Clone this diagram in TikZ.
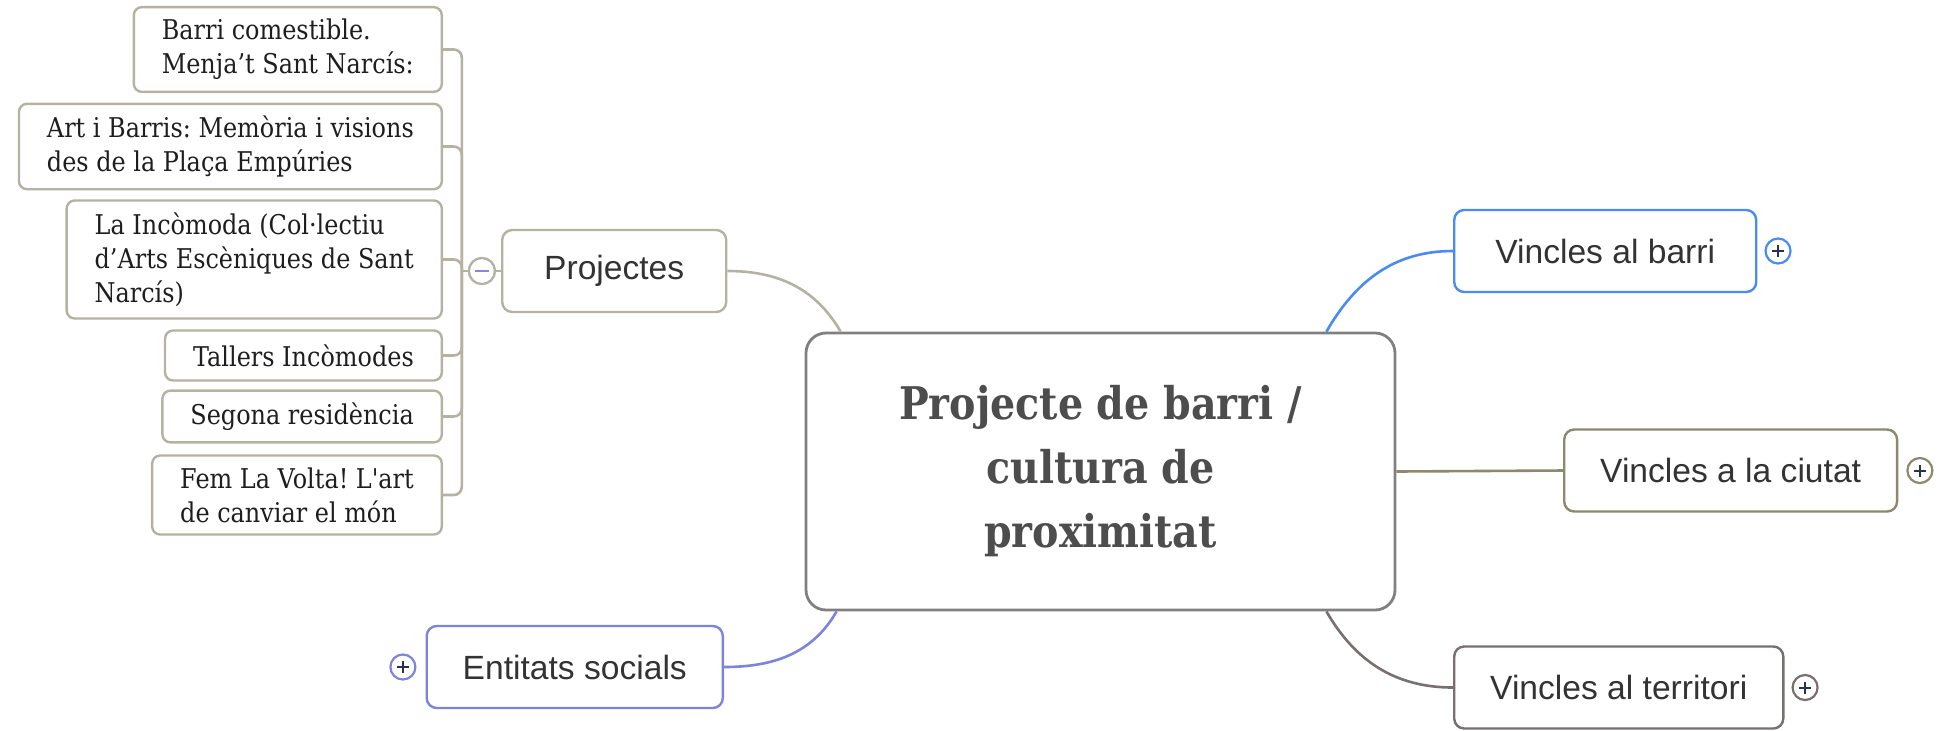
\documentclass[tikz,border=0pt]{standalone}
\usepackage{fontspec}
\usepackage{tikz}
\usetikzlibrary{positioning}
\newfontfamily\slabfont[FakeStretch=0.88,Ligatures=TeXOff]{DejaVu Serif}
\newfontfamily\roundfont{Liberation Sans}
\definecolor{branchgray}{RGB}{182,178,163}
\definecolor{coregray}{RGB}{128,128,128}
\definecolor{barriblue}{RGB}{74,138,245}
\definecolor{ciutatolive}{RGB}{140,137,108}
\definecolor{terrbrown}{RGB}{122,110,110}
\definecolor{entviolet}{RGB}{125,132,220}
\definecolor{signnavy}{RGB}{40,50,80}
\definecolor{minusblue}{RGB}{130,140,210}
\definecolor{inkdark}{RGB}{30,30,30}
\definecolor{inkgray}{RGB}{51,51,51}
\definecolor{coreink}{RGB}{77,77,77}
\frenchspacing

\begin{document}
\begin{tikzpicture}[x=0.5pt,y=0.5pt,
    leaf/.style={draw=branchgray,fill=white,line width=1.2pt,rounded corners=4pt,align=left,
      inner xsep=14pt,inner ysep=6pt,minimum height=25pt,anchor=east,text=inkdark,
      font=\slabfont\frenchspacing\fontsize{13.6}{17}\selectfont},
    topic/.style={draw=#1,fill=white,line width=1.2pt,rounded corners=5pt,inner xsep=18pt,
      minimum height=41pt,text=inkgray,font=\roundfont\fontsize{16.8}{20}\selectfont},
    corebox/.style={draw=coregray,fill=white,line width=1.4pt,rounded corners=10pt,align=center,
      minimum width=294.5pt,minimum height=138.5pt,text=coreink,
      font=\slabfont\bfseries\fontsize{22.5}{32}\selectfont},
    link/.style={draw=#1,line width=1.3pt},
    plusbtn/.style={circle,draw=#1,fill=white,line width=1.1pt,minimum size=12.5pt,inner sep=0pt,
      path picture={\draw[signnavy,line width=1pt]
        ([xshift=-3pt]path picture bounding box.center) -- ([xshift=3pt]path picture bounding box.center)
        ([yshift=-3pt]path picture bounding box.center) -- ([yshift=3pt]path picture bounding box.center);}},
    minusbtn/.style={circle,draw=#1,fill=white,line width=1.1pt,minimum size=13pt,inner sep=0pt,
      path picture={\draw[minusblue,line width=1pt]
        ([xshift=-3.5pt]path picture bounding box.center) -- ([xshift=3.5pt]path picture bounding box.center);}}]
  \useasboundingbox (0,0) rectangle (1941,-730);

  \node[corebox] (core) at (1100.5,-471.5) {Projecte de barri /\\cultura de\\proximitat};

  \node[topic=branchgray,anchor=west,minimum width=112pt] (proj) at (501,-271) {Projectes};
  \node[topic=barriblue,anchor=west,minimum width=151pt] (barri) at (1453,-251) {Vincles al barri};
  \node[topic=ciutatolive,anchor=west] (ciutat) at (1563,-470.5) {Vincles a la ciutat};
  \node[topic=terrbrown,anchor=west] (terr) at (1453,-687.5) {Vincles al territori};
  \node[topic=entviolet,anchor=east] (ent) at (724,-667) {Entitats socials};

  \node[leaf] (comestible) at (443,-49.5) {Barri comestible.\\Menja’t Sant Narcís:};
  \node[leaf] (artbarris) at (443,-146.5) {Art i Barris: Memòria i visions\\des de la Plaça Empúries};
  \node[leaf] (incomoda) at (443,-259.5) {La Incòmoda (Col·lectiu\\d’Arts Escèniques de Sant\\Narcís)};
  \node[leaf] (tallers) at (443,-355.5) {Tallers Incòmodes};
  \node[leaf] (segona) at (443,-416.5) {Segona residència};
  \node[leaf] (volta) at (443,-495) {Fem La Volta! L'art\\de canviar el món};

  \node[minusbtn=branchgray,left=2.5pt of proj] (projtoggle) {};
  \coordinate[left=3pt of projtoggle] (jn);

  \draw[link=branchgray] (proj.east) to[out=0,in=120] ([xshift=18pt]core.north west);
  \draw[link=barriblue] ([xshift=-35pt]core.north east) to[out=60,in=180] (barri.west);
  \draw[link=ciutatolive] (core.east) -- (ciutat.west);
  \draw[link=terrbrown] ([xshift=-35pt]core.south east) to[out=-60,in=180] (terr.west);
  \draw[link=entviolet] ([xshift=16pt]core.south west) to[out=-120,in=0] (ent.east);

  \draw[link=branchgray] (proj.west) -- (jn);
  \draw[link=branchgray,rounded corners=4pt] (jn) |- (comestible.east);
  \draw[link=branchgray,rounded corners=4pt] (jn) |- (artbarris.east);
  \draw[link=branchgray,rounded corners=4pt] (jn) |- (incomoda.east);
  \draw[link=branchgray,rounded corners=4pt] (jn) |- (tallers.east);
  \draw[link=branchgray,rounded corners=4pt] (jn) |- (segona.east);
  \draw[link=branchgray,rounded corners=4pt] (jn) |- (volta.east);
  \node[minusbtn=branchgray,left=2.5pt of proj] {};

  \node[plusbtn=barriblue,right=3.5pt of barri] (barritoggle) {};
  \node[plusbtn=ciutatolive,right=4pt of ciutat] (ciutattoggle) {};
  \node[plusbtn=terrbrown,right=3.5pt of terr] (terrtoggle) {};
  \node[plusbtn=entviolet,left=4.5pt of ent] (enttoggle) {};
\end{tikzpicture}
\end{document}
